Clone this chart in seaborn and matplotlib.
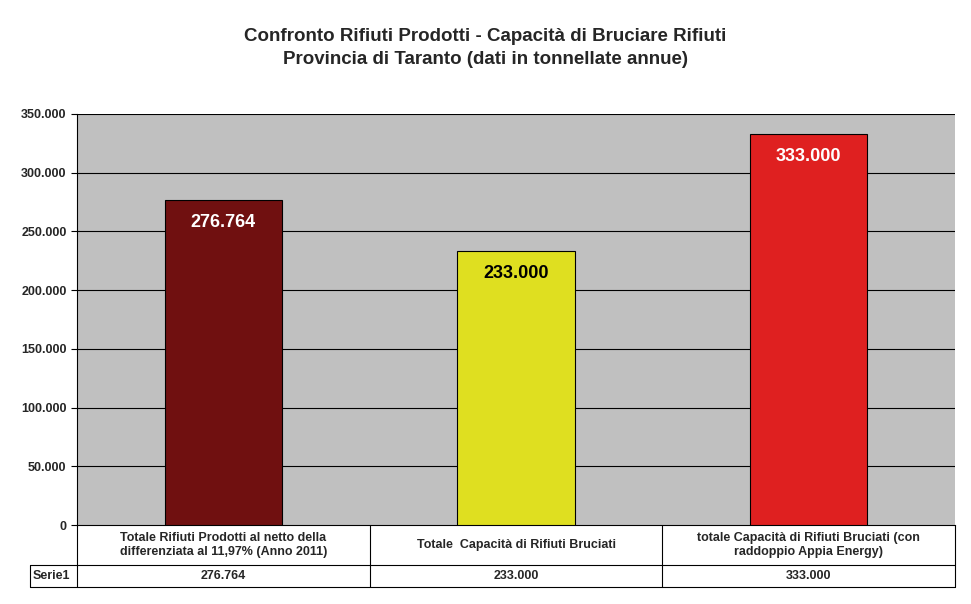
import matplotlib
matplotlib.use("Agg")
import matplotlib.pyplot as plt
import seaborn as sns
import pandas as pd
from matplotlib.lines import Line2D

categories = ["Totale Rifiuti Prodotti al netto della\ndifferenziata al 11,97% (Anno 2011)",
              "Totale  Capacità di Rifiuti Bruciati",
              "totale Capacità di Rifiuti Bruciati (con\nraddoppio Appia Energy)"]
values = [276764, 233000, 333000]
labels = ["276.764", "233.000", "333.000"]
colors = ["#800000", "#FFFF00", "#FF0000"]
label_colors = ["white", "black", "white"]
yticks = [0, 50000, 100000, 150000, 200000, 250000, 300000, 350000]

sns.set_theme(style="white")
plt.rcParams['font.family'] = ['Liberation Sans', 'DejaVu Sans']

W, H = 971, 604
fig = plt.figure(figsize=(W/100, H/100), dpi=100)
ax = fig.add_axes([77/W, 1-525/H, (955-77)/W, (525-114)/H])
ax.set_facecolor("#C0C0C0")
df = pd.DataFrame({"cat": [str(i) for i in range(3)], "val": values})
sns.barplot(data=df, x="cat", y="val", hue="cat", palette=colors, width=0.4,
            edgecolor="black", linewidth=0.8, legend=False, ax=ax, zorder=3)
ax.set_ylim(0, 350000)
ax.set_xlim(-0.5, 2.5)
ax.set_yticks(yticks)
ax.set_yticklabels([f"{v:,}".replace(",", ".") for v in yticks], fontsize=9, fontweight="bold")
ax.tick_params(axis="y", length=4, width=0.8, left=True, color="black")
ax.set_xticks([])
ax.set_xlabel(""); ax.set_ylabel("")
for y in yticks[1:]:
    ax.axhline(y, color="black", lw=0.8, zorder=1)
for s in ["top", "right"]:
    ax.spines[s].set_visible(False)
for s in ["left", "bottom"]:
    ax.spines[s].set_color("black"); ax.spines[s].set_linewidth(0.8)
for i, (v, l, c) in enumerate(zip(values, labels, label_colors)):
    ax.text(i, v - 12000, l, ha="center", va="top", fontsize=13, fontweight="bold", color=c, zorder=4)

def fx(x): return x / W
def fy(y): return 1 - y / H
lk = dict(color="black", lw=0.8, transform=fig.transFigure)
for x in [77, 370, 662, 955]:
    fig.add_artist(Line2D([fx(x), fx(x)], [fy(525), fy(587)], **lk))
fig.add_artist(Line2D([fx(30), fx(30)], [fy(565), fy(587)], **lk))
for y in [565, 587]:
    fig.add_artist(Line2D([fx(30), fx(955)], [fy(y), fy(y)], **lk))
centers = [223.5, 516, 808.5]
for cx, cat, l in zip(centers, categories, labels):
    fig.text(fx(cx), fy(545), cat, ha="center", va="center", fontsize=9, fontweight="bold", linespacing=1.3)
    fig.text(fx(cx), fy(576), l, ha="center", va="center", fontsize=9, fontweight="bold")
fig.text(fx(33), fy(576), "Serie1", ha="left", va="center", fontsize=9, fontweight="bold")

fig.text(0.5, fy(48), "Confronto Rifiuti Prodotti - Capacità di Bruciare Rifiuti\nProvincia di Taranto (dati in tonnellate annue)",
         ha="center", va="center", fontsize=13.5, fontweight="bold", linespacing=1.4)
fig.savefig("out.png", dpi=100, facecolor="white")
